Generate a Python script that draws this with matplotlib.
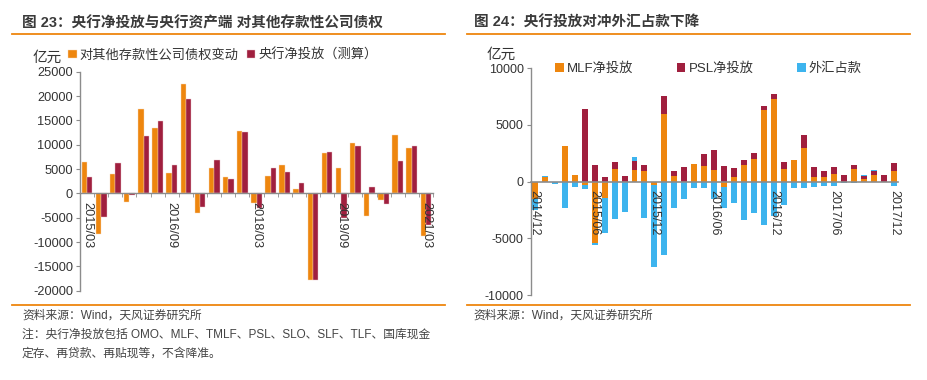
import numpy as np
import matplotlib
matplotlib.use('Agg')
import matplotlib.pyplot as plt
from matplotlib.lines import Line2D
from matplotlib.ticker import FixedLocator, NullFormatter

plt.rcParams['font.family'] = ['Liberation Sans', 'Noto Sans CJK SC', 'DejaVu Sans']
plt.rcParams['axes.unicode_minus'] = False

ORANGE = '#EE860E'
DARKRED = '#A01F3E'
BLUE = '#3DB4EE'
GRAY = '#8C8C8C'
TXT = '#333333'

# ---- figure 23 data: quarterly, 2015/03 .. 2021/03 (亿元)
q_labels = ['2015/03', '2016/09', '2018/03', '2019/09', '2021/03']
claims_chg = [6500, -8400, 3900, -1700, 17400, 13400, 4200, 22400, -4000, 5200,
              3300, 12800, -2000, 3500, 5800, 900, -17800, 8200, 5200, 10300,
              -4600, -1400, 12000, 9400, -8800]
net_inject = [3300, -4900, 6300, -300, 11800, 14900, 5800, 19400, -2900, 6800,
              2900, 12600, -3100, 5300, 4400, 2100, -17900, 8600, -5000, 9700,
              1300, -2100, 6600, 9700, -6600]

# ---- figure 24 data: monthly, 2014/12 .. 2017/12 (亿元)
m_labels = ['2014/12', '2015/06', '2015/12', '2016/06', '2016/12', '2017/06', '2017/12']
mlf = [-1500, 400, 0, 3150, 600, -300, -5450, -1400, 1100, 0,
       1000, 900, -300, 6000, 500, 0, 1600, 1400, 1000, -450,
       440, 1500, 2000, 6300, 7300, 1100, 1900, 3000, 400, 400,
       700, 0, 1100, 200, 600, 0, 950]
psl = [0, 0, 0, 0, 0, 6400, 1500, 400, 600, 500,
       800, 600, 0, 1600, 400, 1300, 0, 1000, 1800, 1400,
       740, 450, 500, 400, 450, 600, 0, 1100, 850, 550,
       600, 600, 370, 300, 350, 550, 730]
fx = [-1000, 100, -200, -2300, -450, -350, -150, -3100, -3300, -2700,
      400, -3200, -7200, -6500, -2300, -1500, -600, -550, -1500, -1850,
      -1900, -3400, -2750, -3850, -3000, -2100, -600, -600, -500, -350,
      -400, -150, -100, 100, 100, 80, -380]

fig = plt.figure(figsize=(9.28, 3.8), dpi=100)
W, H = 928.0, 380.0

def fx_(px):
    return px / W

def fy_(py):
    return 1 - py / H

# header / footer rules and texts
for x0, x1 in [(12, 445), (467, 910)]:
    for y in (34, 305):
        fig.add_artist(Line2D([fx_(x0), fx_(x1)], [fy_(y), fy_(y)], color=ORANGE, lw=1.3))

fig.text(fx_(22), fy_(23), '图 23：央行净投放与央行资产端 对其他存款性公司债权', fontsize=10.5,
         fontweight='bold', color='#3a3a3a', va='center', ha='left')
fig.text(fx_(474), fy_(23), '图 24：央行投放对冲外汇占款下降', fontsize=10.5,
         fontweight='bold', color='#3a3a3a', va='center', ha='left')

note_kw = dict(fontsize=8.5, color='#444444', va='center', ha='left')
fig.text(fx_(22), fy_(316), '资料来源：Wind，天风证券研究所', **note_kw)
fig.text(fx_(22), fy_(335), '注：央行净投放包括 OMO、MLF、TMLF、PSL、SLO、SLF、TLF、国库现金', **note_kw)
fig.text(fx_(22), fy_(354), '定存、再贷款、再贴现等，不含降准。', **note_kw)
fig.text(fx_(473), fy_(316), '资料来源：Wind，天风证券研究所', **note_kw)

# ---------------- left chart ----------------
ax1 = fig.add_axes([fx_(80), fy_(290.7), fx_(433 - 80), (290.7 - 71.7) / H])
n1 = len(claims_chg)
x1 = np.arange(n1)
bw = 0.38
ax1.bar(x1 - bw / 2, claims_chg, bw, color=ORANGE, edgecolor='#f6d9c0', linewidth=0.3,
        label='对其他存款性公司债权变动')
ax1.bar(x1 + bw / 2, net_inject, bw, color=DARKRED, edgecolor='#e8c4cc', linewidth=0.3,
        label='央行净投放（测算）')
ax1.set_xlim(-0.5, n1 - 0.5)
ax1.set_ylim(-20000, 25000)
ax1.set_yticks(np.arange(-20000, 25001, 5000))
ax1.spines['top'].set_visible(False)
ax1.spines['right'].set_visible(False)
ax1.spines['bottom'].set_position(('data', 0))
for s in ('left', 'bottom'):
    ax1.spines[s].set_color(GRAY)
    ax1.spines[s].set_linewidth(1.0)
ax1.set_xticks(np.arange(0, n1, 6))
ax1.set_xticklabels(q_labels, rotation=270, ha='center', va='top', fontsize=9.2, color=TXT)
ax1.tick_params(axis='x', which='major', length=0, pad=6)
ax1.xaxis.set_minor_locator(FixedLocator(np.arange(-0.5, n1, 1.0)))
ax1.xaxis.set_minor_formatter(NullFormatter())
ax1.tick_params(axis='x', which='minor', length=3, color=GRAY, direction='out')
ax1.tick_params(axis='y', length=3, color=GRAY, labelsize=9.2, labelcolor=TXT, pad=2)
fig.text(fx_(62), fy_(58), '亿元', fontsize=10.5, color=TXT, ha='right', va='center')
ax1.legend(loc='center left', bbox_to_anchor=(fx_(68), fy_(55)), bbox_transform=fig.transFigure,
           ncol=2, frameon=False, fontsize=9.5, handlelength=0.65, handleheight=0.65,
           handletextpad=0.25, columnspacing=0.6, borderaxespad=0, borderpad=0,
           labelcolor=TXT)

# ---------------- right chart ----------------
ax2 = fig.add_axes([fx_(530.7), fy_(295), fx_(898 - 530.7), (295 - 68.3) / H])
n2 = len(mlf)
x2 = np.arange(n2)
pos = np.zeros(n2)
neg = np.zeros(n2)
for vals, col, lab in [(mlf, ORANGE, 'MLF净投放'), (psl, DARKRED, 'PSL净投放'), (fx, BLUE, '外汇占款')]:
    v = np.array(vals, dtype=float)
    bottom = np.where(v >= 0, pos, neg)
    ax2.bar(x2, v, 0.6, bottom=bottom, color=col, label=lab)
    pos += np.where(v > 0, v, 0)
    neg += np.where(v < 0, v, 0)
ax2.set_xlim(-0.4, n2 - 0.6)
ax2.set_ylim(-10000, 10000)
ax2.set_yticks(np.arange(-10000, 10001, 5000))
for s in ('top', 'right'):
    ax2.spines[s].set_visible(False)
ax2.spines['bottom'].set_position(('data', 0))
ax2.spines['bottom'].set_zorder(3)
for s in ('left', 'bottom'):
    ax2.spines[s].set_color(GRAY)
ax2.spines['left'].set_linewidth(1.0)
ax2.spines['bottom'].set_linewidth(1.2)
ax2.set_xticks(np.arange(0, n2, 6))
ax2.set_xticklabels(m_labels, rotation=270, ha='center', va='top', fontsize=9, color=TXT)
ax2.tick_params(axis='x', length=0, pad=6)
ax2.tick_params(axis='y', length=3, color=GRAY, labelsize=9, labelcolor=TXT, pad=2)
fig.text(fx_(516), fy_(55), '亿元', fontsize=10.5, color=TXT, ha='right', va='center')
ax2.legend(loc='center left', bbox_to_anchor=(fx_(555), fy_(69)), bbox_transform=fig.transFigure,
           ncol=3, frameon=False, fontsize=9.5, handlelength=0.65, handleheight=0.65,
           handletextpad=0.25, columnspacing=3.3, borderaxespad=0, borderpad=0,
           labelcolor=TXT)

fig.savefig('out.png', dpi=100)
